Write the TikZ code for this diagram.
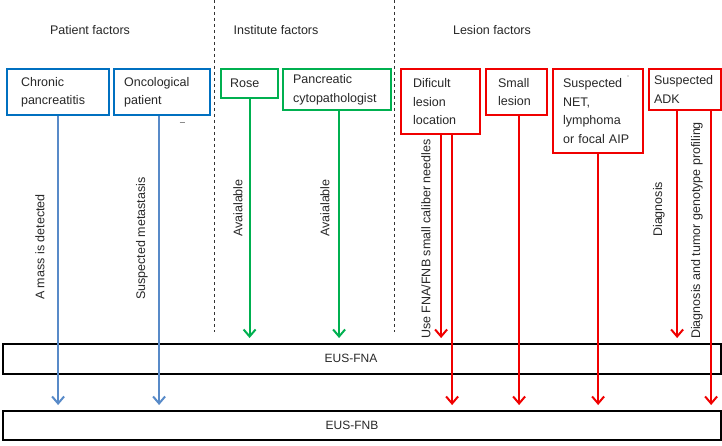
\documentclass[tikz,border=0pt]{standalone}
\usepackage{fontspec}
\setmainfont{Liberation Sans}
\usetikzlibrary{arrows.meta}
\definecolor{pblue}{RGB}{0,112,192}
\definecolor{ablue}{RGB}{88,138,200}
\definecolor{igreen}{RGB}{0,176,80}
\definecolor{lred}{RGB}{240,0,0}
\definecolor{txt}{RGB}{40,40,40}
\tikzset{
  fbox/.style={draw, line width=2.2pt, anchor=north west, align=left, inner ysep=0pt,
    text=txt, font=\fontsize{12.5}{18.5}\selectfont},
  bluebox/.style={fbox, draw=pblue},
  greenbox/.style={fbox, draw=igreen},
  redbox/.style={fbox, draw=lred},
  eusbox/.style={draw=black, line width=2.2pt, anchor=north west, inner sep=0pt},
  arr/.style={line width=2pt, -{Straight Barb[length=7pt,width=12pt,line width=2pt]}, shorten >=5pt},
  barr/.style={arr, draw=ablue},
  garr/.style={arr, draw=igreen},
  rarr/.style={arr, draw=lred},
  title/.style={text=txt, font=\fontsize{12.5}{15}\selectfont},
  vlab/.style={rotate=90, anchor=west, inner sep=0pt, text=txt, font=\fontsize{12.5}{15}\selectfont},
  divider/.style={draw=black!80, line width=0.9pt, dash pattern=on 3pt off 3pt},
  euslab/.style={text=txt, font=\fontsize{12}{14}\selectfont}
}
\begin{document}
\begin{tikzpicture}[x=1pt, y=-1pt]
\useasboundingbox[fill=white] (0,0) rectangle (722,446);

% dividers
\draw[divider] (214,0) -- (214,332);
\draw[divider] (394,0) -- (394,332);

% titles
\node[title] (tp) at (90,30) {Patient factors};
\node[title] (ti) at (276,30) {Institute factors};
\node[title] (tl) at (492,30) {Lesion factors};

% factor boxes
\node[bluebox, minimum width=102pt, minimum height=46pt, text width=74pt, inner xsep=14pt] (cp) at (6,68) {Chronic\\pancreatitis};
\node[bluebox, minimum width=96pt, minimum height=46pt, text width=76pt, inner xsep=10pt] (op) at (113,68) {Oncological\\patient};
\node[greenbox, minimum width=57pt, minimum height=29pt, text width=39pt, inner xsep=9pt] (rose) at (220,68) {Rose};
\node[greenbox, minimum width=108pt, minimum height=41pt, text width=88pt, inner xsep=10pt] (pc) at (282,68) {Pancreatic\\cytopathologist};
\node[redbox, minimum width=79pt, minimum height=65pt, text width=55pt, inner xsep=12pt] (dl) at (400,68) {Dificult\\lesion\\location};
\node[redbox, minimum width=61pt, minimum height=46pt, text width=37pt, inner xsep=12pt] (sl) at (485,68) {Small\\lesion};
\node[redbox, minimum width=90pt, minimum height=84pt, text width=70pt, inner xsep=10pt] (net) at (552,68) {Suspected\\NET,\\lymphoma\\or focal AIP};
\node[redbox, minimum width=72pt, minimum height=41pt, text width=62pt, inner xsep=5pt] (adk) at (648,68) {Suspected\\ADK};

% EUS boxes
\node[eusbox, minimum width=718pt, minimum height=30pt] (fna) at (2,343) {};
\node[eusbox, minimum width=718pt, minimum height=29pt] (fnb) at (2,410) {};
\node[euslab] (fnalab) at (351,358) {EUS-FNA};
\node[euslab] (fnblab) at (352,425) {EUS-FNB};

% arrows
\draw[barr] (cp.south) -- (cp.south |- fnb.north);
\draw[barr] ([xshift=-3pt]op.south) -- ([xshift=-3pt]op.south |- fnb.north);
\draw[garr] (rose.south) -- (rose.south |- fna.north);
\draw[garr] ([xshift=2pt]pc.south) -- ([xshift=2pt]pc.south |- fna.north);
\draw[rarr] ([xshift=0.5pt]dl.south) -- ([xshift=0.5pt]dl.south |- fna.north);
\draw[rarr] ([xshift=11.5pt]dl.south) -- ([xshift=11.5pt]dl.south |- fnb.north);
\draw[rarr] ([xshift=2.5pt]sl.south) -- ([xshift=2.5pt]sl.south |- fnb.north);
\draw[rarr] (net.south) -- (net.south |- fnb.north);
\draw[rarr] ([xshift=-8pt]adk.south) -- ([xshift=-8pt]adk.south |- fna.north);
\draw[rarr] ([xshift=26pt]adk.south) -- ([xshift=26pt]adk.south |- fnb.north);

% rotated labels
\node[vlab] (l1) at (40,300) {A mass is detected};
\node[vlab] (l2) at (142,300) {Suspected metastasis};
\node[vlab] (l3) at (238,237) {Avaialable};
\node[vlab] (l4) at (325,237) {Avaialable};
\node[vlab] (l5) at (426,339) {Use FNA/FNB small caliber needles};
\node[vlab] (l6) at (659,237) {Diagnosis};
\node[vlab] (l7) at (697,339) {Diagnosis and tumor genotype profiling};

% stray marks
\draw[black!45, line width=0.8pt] (179.5,122) -- (184.5,122);
\fill[black!50] (628,76) circle (0.7pt);
\end{tikzpicture}
\end{document}
